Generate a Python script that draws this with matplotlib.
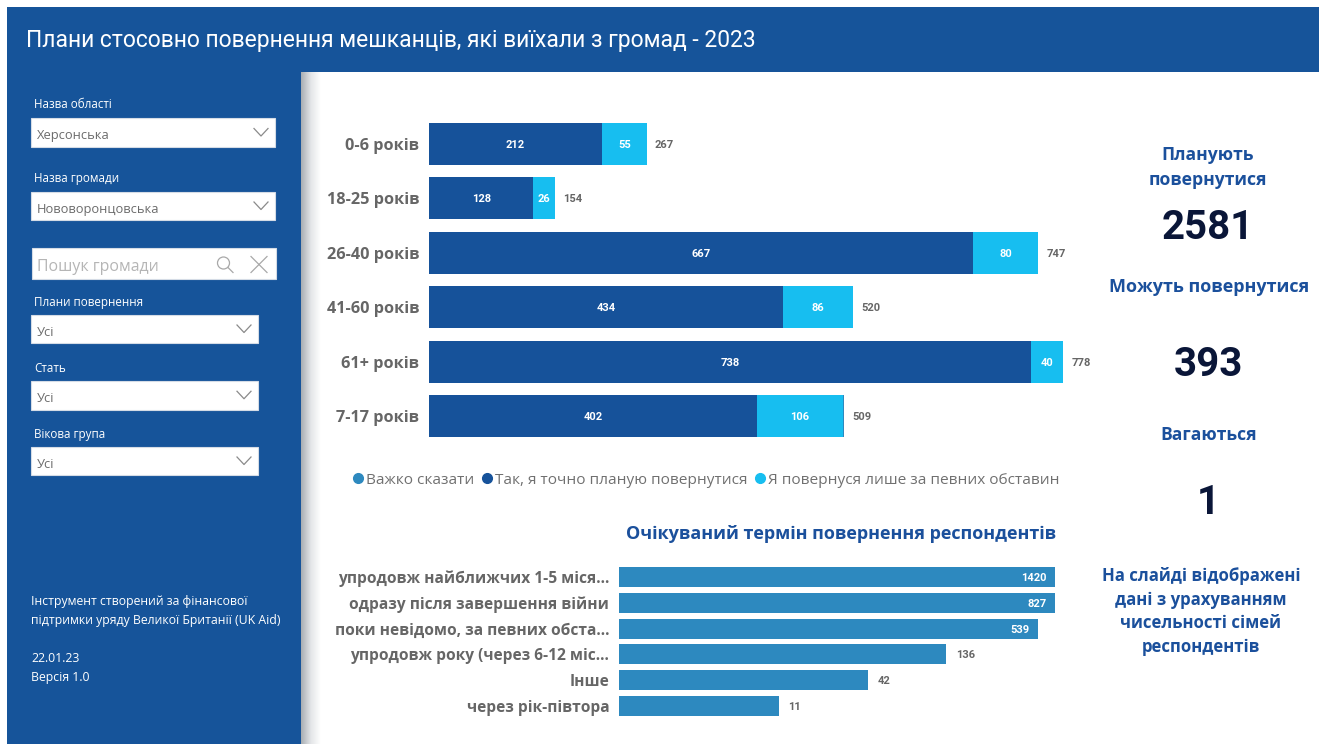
import numpy as np
import matplotlib
matplotlib.use("Agg")
import matplotlib.pyplot as plt
from matplotlib.lines import Line2D
from matplotlib.patches import Rectangle, Circle
from matplotlib.colors import LinearSegmentedColormap

W, H = 1319, 744
BLUE = "#16549A"
DARK = "#16529A"
CYAN = "#17BEF0"
MID = "#2D89BF"
GREY = "#666666"
TITLE = "#1B509C"
NUM = "#0A1638"

age_groups = ["0-6 років", "18-25 років", "26-40 років", "41-60 років", "61+ років", "7-17 років"]
certain = [212, 128, 667, 434, 738, 402]
conditional = [55, 26, 80, 86, 40, 106]
undecided = [0, 0, 0, 0, 0, 1]
legend_labels = ["Важко сказати", "Так, я точно планую повернутися", "Я повернуся лише за певних обставин"]

term_labels = ["упродовж найближчих 1-5 міся...", "одразу після завершення війни",
               "поки невідомо, за певних обста...", "упродовж року (через 6-12 міс...",
               "Інше", "через рік-півтора"]
term_values = [1420, 827, 539, 136, 42, 11]

kpi_plan = 2581
kpi_maybe = 393
kpi_hesitate = 1

SANS = ["Open Sans", "DejaVu Sans"]
NUMF = ["Roboto", "DejaVu Sans"]
plt.rcParams["font.family"] = SANS

fig = plt.figure(figsize=(W / 100, H / 100), dpi=100, facecolor="white")


def axes_px(x0, y0, x1, y1, **kw):
    return fig.add_axes([x0 / W, 1 - y1 / H, (x1 - x0) / W, (y1 - y0) / H], **kw)


bg = axes_px(0, 0, W, H)
bg.set_xlim(0, W)
bg.set_ylim(H, 0)
bg.axis("off")

# panels
bg.add_patch(Rectangle((7, 7), W - 7, 65, fc=BLUE, ec="none"))
bg.add_patch(Rectangle((7, 72), 294, H - 72, fc=BLUE, ec="none"))
cmap = LinearSegmentedColormap.from_list("s", ["#A9AEB3", "#E4E6E8", "#FFFFFF"])
bg.imshow(np.linspace(0, 1, 64)[None, :], extent=(301, 321, H, 72), cmap=cmap, aspect="auto", zorder=1)
bg.set_xlim(0, W)
bg.set_ylim(H, 0)

bg.text(26, 40, "Плани стосовно повернення мешканців, які виїхали з громад - 2023",
        color="white", fontsize=16.5, va="center", ha="left", family=["Roboto", "DejaVu Sans"])


def dropdown(x0, x1, y0, y1, text, label=None, label_y=None):
    bg.add_patch(Rectangle((x0, y0), x1 - x0, y1 - y0, fc="white", ec="#D5DCE6", lw=0.8, zorder=2))
    bg.text(x0 + 6, (y0 + y1) / 2 + 3, text, color="#6B6B6B", fontsize=9.3, va="center", zorder=3)
    cx, cy = x1 - 14, (y0 + y1) / 2
    bg.plot([cx - 7, cx, cx + 7], [cy - 4, cy + 3.5, cy - 4], color="#8A8A8A", lw=0.9, zorder=3)
    if label:
        bg.text(34.5, label_y + 1.5, label, color="white", fontsize=8.4, va="center", zorder=3)


dropdown(31, 275, 118, 147, "Херсонська", "Назва області", 103)
dropdown(31, 275, 192, 220, "Нововоронцовська", "Назва громади", 177)
dropdown(31, 258, 315, 343, "Усі", "Плани повернення", 301)
dropdown(31, 258, 381, 409.5, "Усі", "Стать", 367)
dropdown(31, 258, 447, 475, "Усі", "Вікова група", 433)

bg.add_patch(Rectangle((31.5, 248), 244.5, 31, fc="white", ec="#D5DCE6", lw=0.8, zorder=2))
bg.text(37, 267, "Пошук громади", color="#B5B5B5", fontsize=11.4, va="center", zorder=3)
bg.add_patch(Circle((223.5, 263), 6, fc="none", ec="#A8A8A8", lw=0.9, zorder=3))
bg.plot([228, 233], [267.5, 272.5], color="#A8A8A8", lw=0.9, zorder=3)
bg.plot([251, 267], [256.5, 272.5], color="#A8A8A8", lw=0.9, zorder=3)
bg.plot([251, 267], [272.5, 256.5], color="#A8A8A8", lw=0.9, zorder=3)

for y, s in [(600, "Інструмент створений за фінансової"),
             (619, "підтримки уряду Великої Британії (UK Aid)"),
             (657, "22.01.23"), (676, "Версія 1.0")]:
    bg.text(31, y + 1.5, s, color="white", fontsize=8.85, va="center", zorder=3)

# KPI column
for x, y, s, fs in [(1208, 153, "Планують", 12.6), (1208, 178, "повернутися", 12.7),
                    (1209, 285, "Можуть повернутися", 13.0), (1209, 433, "Вагаються", 12.6),
                    (1201, 574, "На слайді відображені", 12.05), (1201, 598, "дані з урахуванням", 12.05),
                    (1201, 621, "чисельності сімей", 12.05), (1201, 645, "респондентів", 12.05)]:
    bg.text(x, y + 2, s, color=TITLE, fontsize=fs, fontweight="bold", ha="center", va="center")
for y, v in [(226, kpi_plan), (363, kpi_maybe), (501, kpi_hesitate)]:
    bg.text(1208, y + 2, str(v), color=NUM, fontsize=29, fontweight="bold", ha="center", va="center",
            family=NUMF)

bg.text(841, 534, "Очікуваний термін повернення респондентів", color=TITLE, fontsize=13.0,
        fontweight="bold", ha="center", va="center")

# top stacked chart
ax = axes_px(429, 116.8, 1100, 443.2)
ax.patch.set_alpha(0)
ypos = np.arange(len(age_groups))
cert = np.array(certain)
cond = np.array(conditional)
und = np.array(undecided)
b1 = ax.barh(ypos, cert, height=0.77, color=DARK, lw=0)
b2 = ax.barh(ypos, cond, left=cert, height=0.77, color=CYAN, lw=0)
b3 = ax.barh(ypos, und, left=cert + cond, height=0.77, color=MID, lw=0)
ax.set_xlim(0, 671 / 0.8155)
ax.set_ylim(len(age_groups) - 0.5, -0.5)
ax.set_yticks(ypos, age_groups, fontsize=11.7, fontweight="bold", color=GREY)
ax.tick_params(axis="y", length=0, pad=7)
ax.set_xticks([])
for s in ax.spines.values():
    s.set_visible(False)
tot = cert + cond + und
for i in ypos:
    ax.annotate(str(cert[i]), (cert[i] / 2, i), xytext=(0, -0.7), textcoords="offset points", color="white",
                fontsize=8, fontweight="bold", ha="center", va="center", family=NUMF)
    ax.annotate(str(cond[i]), (cert[i] + cond[i] / 2, i), xytext=(0, -0.7), textcoords="offset points",
                color="white", fontsize=8, fontweight="bold", ha="center", va="center", family=NUMF)
    ax.annotate(str(tot[i]), (tot[i], i), xytext=(5.8, -0.7), textcoords="offset points", color=GREY,
                fontsize=8, fontweight="bold", ha="left", va="center", family=NUMF)

handles = [Line2D([], [], ls="", marker="o", ms=7, color=c) for c in (MID, DARK, CYAN)]
fig.legend(handles, legend_labels, loc="center", bbox_to_anchor=(705 / W, 1 - 480 / H), ncol=3,
           frameon=False, fontsize=11.1, labelcolor="#707070", handletextpad=0.0, columnspacing=0.35,
           handlelength=1.0, borderpad=0, borderaxespad=0)

# lower bar chart (log scale, clipped at the right edge)
ax2 = axes_px(619, 564.1, 1055, 718.9)
ax2.patch.set_alpha(0)
ypos2 = np.arange(len(term_labels))
ax2.barh(ypos2, term_values, height=0.78, color=MID, lw=0)
ax2.set_xscale("log")
ax2.set_xlim(1, 695)
ax2.set_ylim(len(term_labels) - 0.5, -0.5)
ax2.set_yticks(ypos2, term_labels, fontsize=11.2, fontweight="bold", color=GREY)
ax2.tick_params(axis="y", length=0, pad=7)
ax2.set_xticks([])
ax2.minorticks_off()
ax2.tick_params(axis="x", which="both", length=0, labelbottom=False)
for s in ax2.spines.values():
    s.set_visible(False)
for i, v in zip(ypos2, term_values):
    xv = min(v, 695)
    if v > 300:
        ax2.annotate(str(v), (xv, i), xytext=(-6, -0.7), textcoords="offset points", color="white",
                     fontsize=8, fontweight="bold", ha="right", va="center", family=NUMF)
    else:
        ax2.annotate(str(v), (xv, i), xytext=(7, -0.7), textcoords="offset points", color=GREY,
                     fontsize=8, fontweight="bold", ha="left", va="center", family=NUMF)

fig.savefig("out.png", dpi=100, facecolor="white")
